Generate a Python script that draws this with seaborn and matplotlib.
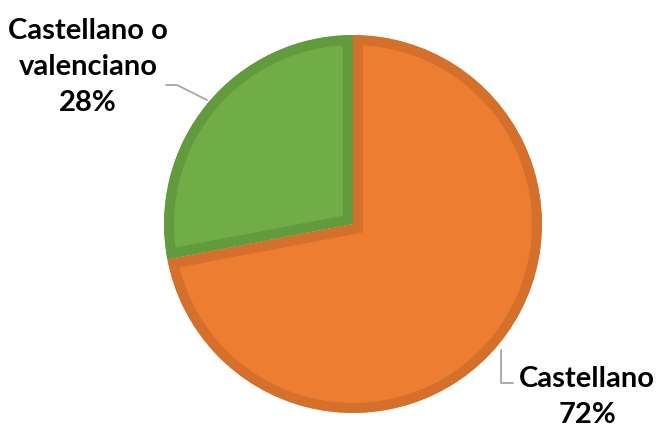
import matplotlib
matplotlib.use("Agg")
import matplotlib.pyplot as plt
import seaborn as sns

categories = ["Castellano", "Castellano o\nvalenciano"]
values = [72, 28]
fill_colors = ["#ED7D31", "#70AD47"]
edge_colors = ["#D5702C", "#629A3E"]

sns.set_style("white")
plt.rcParams['font.family'] = ['Lato', 'DejaVu Sans']

W, H = 658, 429
fig = plt.figure(figsize=(W / 100, H / 100), dpi=100)
fig.patch.set_facecolor("white")

cx, cy, r = 353, 224, 189
ax = fig.add_axes([(cx - r) / W, (H - cy - r) / H, 2 * r / W, 2 * r / H])

wedges, _ = ax.pie(values, colors=fill_colors, startangle=90, counterclock=False,
                   radius=1.0, frame=False)
ax.set_xlim(-1, 1)
ax.set_ylim(-1, 1)
ax.axis("off")
for w, ec in zip(wedges, edge_colors):
    w.set_edgecolor(ec)
    w.set_linewidth(14.5)
    w.set_clip_on(True)
    w.set_clip_path(w)

# overlay in pixel coordinates for labels and leader lines
ov = fig.add_axes([0, 0, 1, 1], facecolor="none")
ov.set_xlim(0, W)
ov.set_ylim(H, 0)
ov.axis("off")

pcts = [f"{v}%" for v in values]
ov.text(587, 397, f"{categories[0]}\n{pcts[0]}", ha="center", va="center",
        fontsize=21, fontweight="bold", color="black", linespacing=1.48)
ov.text(88, 67, f"{categories[1]}\n{pcts[1]}", ha="center", va="center",
        fontsize=21, fontweight="bold", color="black", linespacing=1.48)

ov.plot([166, 177, 207], [85, 85, 100], color="#A6A6A6", lw=1.3)
ov.plot([501, 501, 513], [350, 383, 383], color="#A6A6A6", lw=1.3)

fig.savefig("out.png", dpi=100, facecolor="white")
